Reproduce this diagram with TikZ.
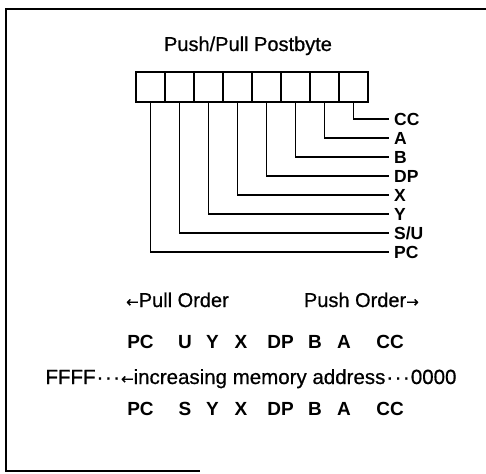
\documentclass[tikz,border=0pt]{standalone}
\usepackage{fontspec}
\setmainfont{Liberation Sans}
\newfontfamily\medfont[FakeBold=0.7]{Liberation Sans}
\newfontfamily\arrfont[FakeBold=0.7]{DejaVu Sans}
\newcommand{\mdots}{\kern1bp\textperiodcentered\kern1.5bp\textperiodcentered\kern1.5bp\textperiodcentered\kern1bp}
\begin{document}
\begin{tikzpicture}[x=1bp,y=-1bp,
  cell/.style={draw,line width=1.8bp,minimum width=29bp,minimum height=30bp,inner sep=0pt},
  reglabel/.style={anchor=west,inner sep=0pt,text height=12.6bp,text depth=0pt,font=\fontsize{17.5bp}{19bp}\selectfont\bfseries},
  rowtok/.style={anchor=base,inner sep=0pt,font=\fontsize{19bp}{20bp}\selectfont\bfseries},
  plain/.style={inner sep=0pt,font=\medfont\fontsize{20bp}{22bp}\selectfont},
  wire/.style={line width=1.1bp},
  frame/.style={line width=2.6bp}]
\useasboundingbox (0,0) rectangle (486,474);
% frame
\coordinate (ftl) at (6,9);
\coordinate (ftr) at (486,9);
\coordinate (fbl) at (6,471);
\coordinate (fbr) at (200,471);
\draw[frame] (ftr) -- (ftl) -- (fbl) -- (fbr);
% title
\node[plain,anchor=base] (title) at (248,51) {Push/Pull Postbyte};
% cells
\foreach \i in {1,...,8} {
  \node[cell] (c\i) at ({150.5+29*(\i-1)},87) {};
}
% labels
\node[reglabel] (lCC) at (394,119) {CC};
\node[reglabel] (lA)  at (394,138) {A};
\node[reglabel] (lB)  at (394,157) {B};
\node[reglabel] (lDP) at (394,176) {DP};
\node[reglabel] (lX)  at (394,195) {X};
\node[reglabel] (lY)  at (394,214) {Y};
\node[reglabel] (lSU) at (394,233) {S/U};
\node[reglabel] (lPC) at (394,252) {PC};
\foreach \c/\l in {8/CC,7/A,6/B,5/DP,4/X,3/Y,2/SU,1/PC} {
  \draw[wire] (c\c.south) |- ([xshift=-5bp]l\l.west);
}
% order
\node[plain,anchor=base west] (pull) at (126,307) {{\arrfont\fontsize{15bp}{18bp}\selectfont ←}Pull Order};
\node[plain,anchor=base east] (push) at (419,307) {Push Order{\arrfont\fontsize{15bp}{18bp}\selectfont →}};
% rows
\foreach \t/\x/\n in {PC/140.5/a,U/185/b,Y/212.5/c,X/241/d,DP/280.5/e,B/315/f,A/344/g,CC/390/h} {
  \node[rowtok] (r1\n) at (\x,348.5) {\t};
}
\node[plain,anchor=base,font=\medfont\fontsize{20.5bp}{22bp}\selectfont] (mem) at (251,384) {FFFF\mdots{\arrfont\fontsize{15bp}{18bp}\selectfont ←}increasing memory address\mdots 0000};
\foreach \t/\x/\n in {PC/140.5/a,S/185/b,Y/212.5/c,X/241/d,DP/280.5/e,B/315/f,A/344/g,CC/390/h} {
  \node[rowtok] (r2\n) at (\x,415.5) {\t};
}
\end{tikzpicture}
\end{document}
